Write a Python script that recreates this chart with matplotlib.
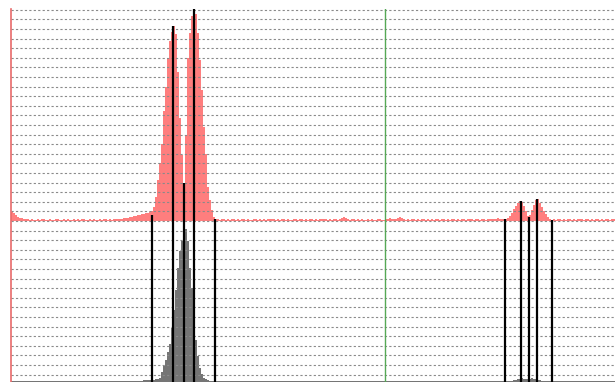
import numpy as np
import matplotlib
matplotlib.use("Agg")
import matplotlib.pyplot as plt

# channel index (one bar per channel)
n_bins = 302
channels = np.arange(n_bins)

# upper (red) histogram, in grid units above its baseline
red_counts = (
    [0.9, 0.8, 0.6, 0.45, 0.35, 0.3, 0.25, 0.2]
    + [0.2, 0.15, 0.2, 0.15, 0.15, 0.2, 0.15, 0.2, 0.2, 0.15,
       0.15, 0.2, 0.15, 0.15, 0.2, 0.2, 0.15, 0.15, 0.2, 0.15,
       0.2, 0.15, 0.15, 0.2, 0.15, 0.2, 0.15, 0.2, 0.2, 0.15,
       0.15, 0.2, 0.15, 0.2, 0.15, 0.15, 0.2, 0.15, 0.2, 0.2,
       0.15, 0.2, 0.15, 0.2, 0.2, 0.25, 0.2, 0.25, 0.3, 0.3,
       0.35, 0.4, 0.45]
    + [0.5, 0.55, 0.6, 0.65, 0.7, 0.75, 0.8, 0.85, 0.9]
    + [1.0, 1.5, 2.5, 4.3, 6.0, 8.0, 11.5, 14.0, 17.0, 18.7,
       19.7, 20.3, 19.5, 15.5, 10.7, 6.9, 4.0, 9.0, 17.0, 19.6,
       21.3, 22.1, 21.6, 19.6, 16.8, 13.6, 9.8, 7.0, 3.5, 2.2,
       1.1, 0.4]
    + [0.25, 0.2, 0.15, 0.2, 0.2, 0.15, 0.2, 0.15, 0.2, 0.2, 0.15, 0.2,
       0.15, 0.2, 0.2, 0.15, 0.2, 0.15, 0.15, 0.2, 0.2, 0.15, 0.2, 0.15,
       0.2, 0.15, 0.2, 0.2, 0.25, 0.2, 0.15, 0.2, 0.15, 0.2, 0.2, 0.15,
       0.2, 0.15, 0.15, 0.2, 0.2, 0.15, 0.2, 0.2, 0.15, 0.2, 0.15, 0.2,
       0.2, 0.15, 0.2, 0.15, 0.2, 0.2, 0.25, 0.2, 0.15, 0.2, 0.15, 0.2,
       0.2, 0.15, 0.2, 0.3, 0.4, 0.35, 0.2, 0.15, 0.2, 0.2, 0.15, 0.2,
       0.15, 0.2, 0.15, 0.15, 0.2, 0.15, 0.2, 0.15, 0.15, 0.2, 0.2, 0.15,
       0.15, 0.2, 0.25, 0.3, 0.25, 0.2, 0.2, 0.35, 0.45, 0.3, 0.2, 0.15,
       0.2, 0.15, 0.2, 0.2, 0.15, 0.2, 0.15, 0.2, 0.2, 0.15, 0.2, 0.15,
       0.2, 0.15, 0.2, 0.2, 0.15, 0.2, 0.2, 0.15, 0.2, 0.15, 0.2, 0.2,
       0.15, 0.2, 0.15, 0.2, 0.2, 0.15, 0.2, 0.25, 0.2, 0.15, 0.2, 0.2,
       0.15, 0.2, 0.2, 0.15, 0.2, 0.25, 0.2, 0.2, 0.25, 0.3, 0.25, 0.2]
    + [0.2, 0.25, 0.3, 0.5, 0.8, 1.2, 1.6, 1.9, 2.1, 2.0,
       1.6, 1.0, 0.5, 0.6, 1.1, 1.7, 2.2, 2.3, 1.9, 1.5,
       1.0, 0.7, 0.4, 0.2, 0.15]
    + [0.2, 0.15, 0.2, 0.2, 0.15, 0.2, 0.15, 0.2, 0.2, 0.15,
       0.2, 0.15, 0.2, 0.25, 0.2, 0.15, 0.2, 0.2, 0.15, 0.2,
       0.15, 0.2, 0.2, 0.15, 0.2, 0.15, 0.2, 0.2, 0.15, 0.2, 0.2]
)

# lower (black) histogram, in grid units above the bottom edge
black_counts = (
    [0.1, 0.15, 0.1, 0.1, 0.15, 0.1, 0.1, 0.15, 0.1, 0.1,
     0.15, 0.1, 0.1, 0.1, 0.15, 0.1, 0.1, 0.15, 0.1, 0.1,
     0.1, 0.15, 0.1, 0.1, 0.15, 0.1, 0.1, 0.1, 0.15, 0.1,
     0.1, 0.15, 0.1, 0.1, 0.1, 0.15, 0.1, 0.1, 0.15, 0.1,
     0.1, 0.1, 0.15, 0.1, 0.1, 0.15, 0.1, 0.1, 0.1, 0.15,
     0.1, 0.1, 0.15, 0.1, 0.1, 0.1, 0.15, 0.1, 0.1, 0.15,
     0.1, 0.1, 0.15, 0.1]
    + [0.15, 0.15, 0.2, 0.2, 0.2, 0.2, 0.25, 0.25, 0.3]
    + [0.3, 0.4, 1.0, 1.7, 2.3, 3.1, 4.0, 5.6, 7.5, 9.6,
       11.9, 13.6, 14.7, 15.6, 15.9, 14.7, 11.9, 9.8, 7.3, 4.4,
       2.7, 1.5, 0.8, 0.4, 0.3, 0.2]
    + [0.1, 0.15, 0.1, 0.1, 0.15, 0.1, 0.1, 0.1, 0.15, 0.1,
       0.1, 0.15, 0.1, 0.1, 0.1, 0.15, 0.1, 0.1, 0.15, 0.1,
       0.1, 0.1, 0.15, 0.1, 0.1, 0.15, 0.1, 0.1, 0.1, 0.15,
       0.1, 0.1, 0.15, 0.1, 0.1, 0.1, 0.15, 0.1, 0.1, 0.15,
       0.1, 0.1, 0.15, 0.1, 0.1, 0.1, 0.15, 0.1, 0.1, 0.15,
       0.1, 0.1, 0.1, 0.15, 0.1, 0.1, 0.15, 0.1, 0.1, 0.1,
       0.15, 0.1, 0.1, 0.15, 0.1, 0.1, 0.1, 0.15, 0.1, 0.1,
       0.15, 0.1, 0.1, 0.1, 0.15, 0.1, 0.1, 0.15, 0.1, 0.1,
       0.1, 0.15, 0.1, 0.1, 0.15, 0.1, 0.1, 0.1, 0.15, 0.1,
       0.1, 0.15, 0.1, 0.1, 0.1, 0.15, 0.1, 0.1, 0.15, 0.1,
       0.1, 0.1, 0.15, 0.1, 0.1, 0.15, 0.1, 0.1, 0.1, 0.15,
       0.1, 0.1, 0.15, 0.1, 0.1, 0.1, 0.15, 0.1, 0.1, 0.15,
       0.1, 0.1, 0.1, 0.15, 0.1, 0.1, 0.15, 0.1, 0.1, 0.1,
       0.15, 0.1, 0.1, 0.15, 0.1, 0.1, 0.1, 0.15, 0.1, 0.1,
       0.15, 0.1, 0.1, 0.1, 0.15, 0.1, 0.1, 0.15, 0.1, 0.1]
    + [0.1, 0.15, 0.2, 0.25, 0.3, 0.35, 0.4, 0.35, 0.3, 0.3,
       0.35, 0.4, 0.35, 0.3, 0.25, 0.2, 0.15, 0.1]
    + [0.1, 0.15, 0.1, 0.1, 0.15, 0.1, 0.1, 0.1, 0.15, 0.1,
       0.1, 0.15, 0.1, 0.1, 0.1, 0.15, 0.1, 0.1, 0.15, 0.1,
       0.1, 0.1, 0.15, 0.1, 0.1, 0.15, 0.1, 0.1, 0.1, 0.15,
       0.1, 0.1, 0.15, 0.1, 0.1]
)

# peak / boundary markers: channel and red height where each line ends
marker_ch = [70, 80.5, 86, 91, 101.5, 246.5, 254.35, 258.35, 262.65, 270]
marker_top = [0.6, 20.3, 4.0, 22.1, 0.2, 0.2, 2.1, 0.4, 2.3, 0.1]

divider_ch = 186.5

y_bottom = -16.77
y_top = 22.08

fig = plt.figure(figsize=(6.15, 3.82), dpi=100)
ax = fig.add_axes([11 / 615, 0, 604 / 615, 373 / 382])

ax.bar(channels, red_counts, width=0.55, bottom=0, color="#ff4d4d", alpha=0.72, linewidth=0)
ax.bar(channels, black_counts, width=0.55, bottom=y_bottom, color="#3a3a3a", alpha=0.7, linewidth=0)

ax.vlines(marker_ch, y_bottom, marker_top, color="black", linewidth=1.6, zorder=3)
ax.axvline(divider_ch, color="#55a855", linewidth=1, zorder=3)

ax.set_xlim(-0.5, n_bins - 0.5)
ax.set_ylim(y_bottom, y_top)
ax.set_yticks(np.arange(-16, 23))
ax.grid(axis="y", linestyle=(0, (2, 2)), color="#8a8a8a", linewidth=0.8)
ax.tick_params(left=False, bottom=False, labelleft=False, labelbottom=False)

for side in ("top", "right", "bottom"):
    ax.spines[side].set_visible(False)
ax.spines["left"].set_color("#e86a6a")
ax.spines["left"].set_linewidth(1.2)

fig.savefig("out.png", dpi=100)
